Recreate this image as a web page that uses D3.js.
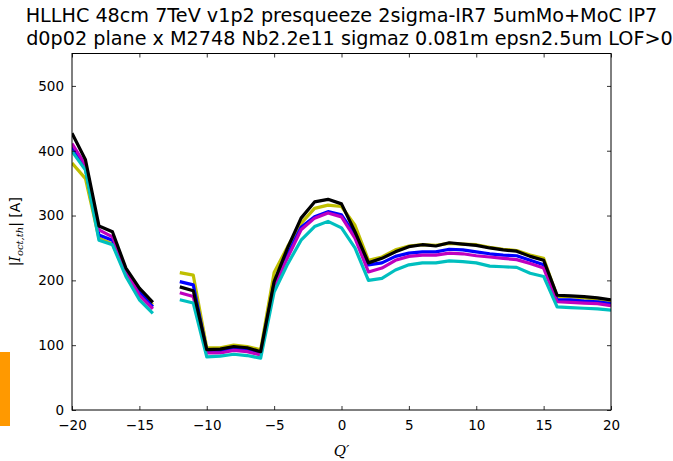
<!DOCTYPE html>
<html>
<head>
<meta charset="utf-8">
<script src="https://cdn.jsdelivr.net/npm/d3@7"></script>
<style>
  body { margin: 0; background: #fff; }
  svg { display: block; font-family: "DejaVu Sans", sans-serif; }
</style>
</head>
<body>
<script>
var svgWidth = 673;
var svgHeight = 461;

var margin = { top: 53.5, right: 62, bottom: 51, left: 72 };
var chartWidth = svgWidth - margin.left - margin.right;
var chartHeight = svgHeight - margin.top - margin.bottom;

// Q' values, two pieces (no point at -13)
var qLeft = [-20, -19, -18, -17, -16, -15, -14];
var qRight = [-12, -11, -10, -9, -8, -7, -6, -5, -4, -3, -2, -1, 0, 1, 2, 3, 4, 5, 6, 7, 8, 9, 10, 11, 12, 13, 14, 15, 16, 17, 18, 19, 20];

var xTicks = [-20, -15, -10, -5, 0, 5, 10, 15, 20];
var yTicks = [0, 100, 200, 300, 400, 500];

// |I_oct,th| [A] per series
var yellowLeft = [381, 357, 265, 256, 211, 180, 162];
var yellowRight = [212, 208, 96, 96, 100, 98, 93, 212, 252, 288, 311, 316, 314, 285, 231, 236, 247, 253, 255, 254, 257, 256, 255, 251, 248, 246, 239, 234, 175, 175, 173, 171, 167];

var blueLeft = [406, 372, 270, 262, 215, 182, 159];
var blueRight = [198, 193, 90, 91, 95, 93, 87, 195, 240, 282, 298, 306, 301, 270, 224, 227, 237, 242, 244, 244, 248, 247, 244, 241, 239, 238, 231, 224, 170, 170, 168, 167, 164];

var magentaLeft = [411, 378, 278, 267, 216, 177, 156];
var magentaRight = [181, 175, 88, 88, 92, 90, 85, 190, 235, 278, 296, 304, 298, 265, 213, 219, 231, 237, 239, 239, 242, 241, 238, 236, 234, 232, 226, 219, 167, 166, 165, 164, 161];

var cyanLeft = [399, 370, 262, 255, 206, 170, 149];
var cyanRight = [170, 165, 82, 83, 86, 84, 80, 182, 225, 262, 283, 291, 281, 250, 200, 203, 216, 224, 227, 227, 230, 229, 227, 222, 221, 220, 211, 206, 159, 158, 157, 156, 154];

var blackLeft = [427, 386, 284, 275, 219, 188, 166];
var blackRight = [190, 184, 93, 94, 98, 96, 90, 198, 250, 296, 321, 325, 318, 275, 227, 234, 244, 252, 255, 253, 258, 256, 254, 250, 247, 245, 237, 231, 177, 176, 175, 173, 170];

var series = [
  { color: "#bfbf00", left: yellowLeft, right: yellowRight },
  { color: "#0000ff", left: blueLeft, right: blueRight },
  { color: "#bf00bf", left: magentaLeft, right: magentaRight },
  { color: "#00bfbf", left: cyanLeft, right: cyanRight },
  { color: "#000000", left: blackLeft, right: blackRight }
];

var svg = d3.select("body").append("svg")
  .attr("width", svgWidth)
  .attr("height", svgHeight);

// orange marker on the left edge
svg.append("rect")
  .attr("x", 0).attr("y", 352)
  .attr("width", 10).attr("height", 74)
  .attr("fill", "#ff9900");

var chartGroup = svg.append("g")
  .attr("transform", `translate(${margin.left}, ${margin.top})`);

var xScale = d3.scaleLinear().domain([-20, 20]).range([0, chartWidth]);
var yScale = d3.scaleLinear().domain([0, 550]).range([chartHeight, 0]);

var line = d3.line()
  .x(function(d) { return xScale(d[0]); })
  .y(function(d) { return yScale(d[1]); });

chartGroup.append("clipPath").attr("id", "clip")
  .append("rect").attr("width", chartWidth).attr("height", chartHeight);

var lines = chartGroup.append("g").attr("clip-path", "url(#clip)");

series.forEach(function(s) {
  [[qLeft, s.left], [qRight, s.right]].forEach(function(part) {
    lines.append("path")
      .datum(d3.zip(part[0], part[1]))
      .attr("d", line)
      .attr("fill", "none")
      .attr("stroke", s.color)
      .attr("stroke-width", 3.2)
      .attr("stroke-linejoin", "round");
  });
});

// axes, matplotlib classic style: ticks inside on all sides
function styleAxis(g) {
  g.select(".domain").remove();
  g.selectAll(".tick line").attr("stroke", "#000").attr("stroke-width", 0.8);
  g.selectAll(".tick text").attr("fill", "#000").style("font-size", "13.5px")
    .style("font-family", "DejaVu Sans, sans-serif");
}

var fmt = function(d) { return d < 0 ? "\u2212" + Math.abs(d) : d; };

chartGroup.append("g")
  .attr("transform", `translate(0, ${chartHeight})`)
  .call(d3.axisBottom(xScale).tickValues(xTicks).tickSize(-4).tickPadding(10).tickFormat(fmt))
  .call(styleAxis);

chartGroup.append("g")
  .call(d3.axisTop(xScale).tickValues(xTicks).tickSize(-4).tickFormat(""))
  .call(styleAxis);

chartGroup.append("g")
  .call(d3.axisLeft(yScale).tickValues(yTicks).tickSize(-4).tickPadding(8))
  .call(styleAxis);

chartGroup.append("g")
  .attr("transform", `translate(${chartWidth}, 0)`)
  .call(d3.axisRight(yScale).tickValues(yTicks).tickSize(-4).tickFormat(""))
  .call(styleAxis);

chartGroup.append("rect")
  .attr("width", chartWidth).attr("height", chartHeight)
  .attr("fill", "none").attr("stroke", "#000").attr("stroke-width", 1);

// title
var title = svg.append("text")
  .attr("text-anchor", "middle")
  .style("font-size", "19.2px");
title.append("tspan").attr("x", margin.left + chartWidth / 2).attr("y", 22)
  .text("HLLHC 48cm 7TeV v1p2 presqueeze 2sigma-IR7 5umMo+MoC IP7");
title.append("tspan").attr("x", margin.left + chartWidth / 2 + 8).attr("y", 45)
  .text("d0p02 plane x M2748 Nb2.2e11 sigmaz 0.081m epsn2.5um LOF>0");

// x label
svg.append("text")
  .attr("x", margin.left + chartWidth / 2)
  .attr("y", 456)
  .attr("text-anchor", "middle")
  .style("font-family", "DejaVu Serif, serif")
  .style("font-style", "italic")
  .style("font-size", "15px")
  .text("Q\u2032");

// y label
var ylab = svg.append("text")
  .attr("transform", `translate(20, ${margin.top + chartHeight / 2}) rotate(-90)`)
  .attr("text-anchor", "middle")
  .style("font-size", "14px");
ylab.append("tspan").text("|");
ylab.append("tspan").style("font-family", "DejaVu Serif, serif").style("font-style", "italic").text("I");
ylab.append("tspan").attr("dy", 3).style("font-family", "DejaVu Serif, serif").style("font-style", "italic")
  .style("font-size", "10px").text("oct,th");
ylab.append("tspan").attr("dy", -3).text("| [A]");
</script>
</body>
</html>
